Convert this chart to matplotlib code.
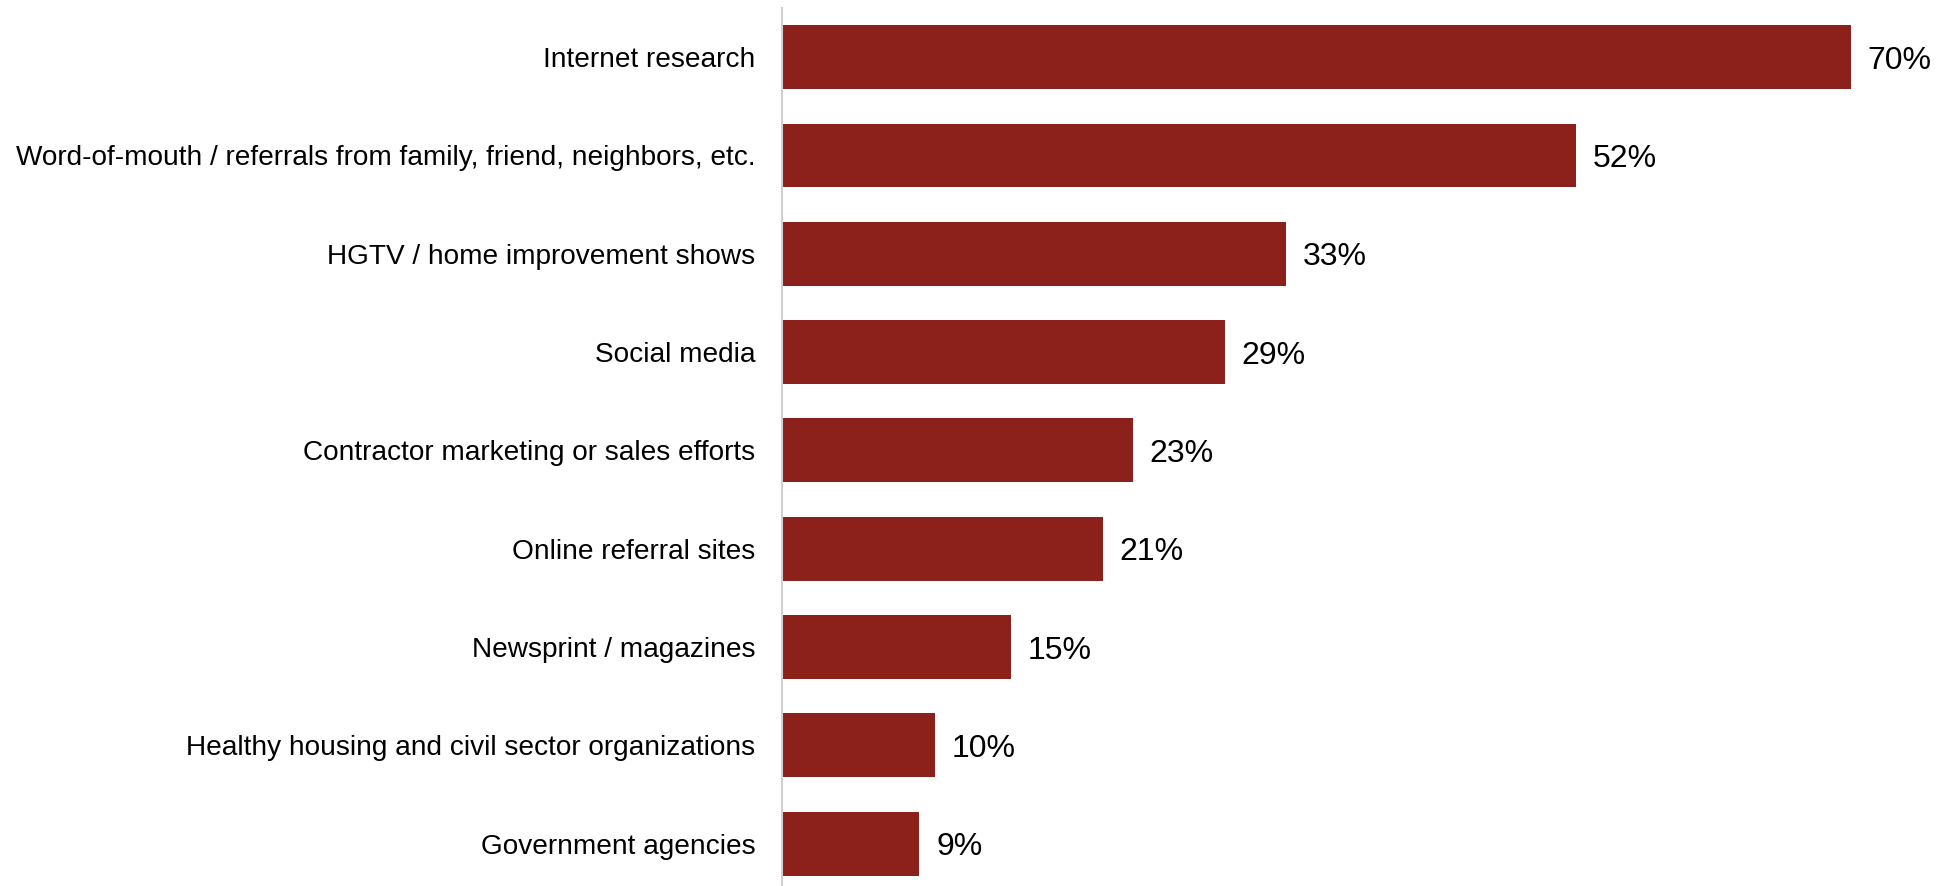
import matplotlib
matplotlib.use("Agg")
import matplotlib.pyplot as plt

plt.rcParams["font.family"] = ["Liberation Sans", "DejaVu Sans"]

# Fuentes de información consultadas (% de encuestados)
categorias = [
    "Internet research",
    "Word-of-mouth / referrals from family, friend, neighbors, etc.",
    "HGTV / home improvement shows",
    "Social media",
    "Contractor marketing or sales efforts",
    "Online referral sites",
    "Newsprint / magazines",
    "Healthy housing and civil sector organizations",
    "Government agencies",
]
valores = [70, 52, 33, 29, 23, 21, 15, 10, 9]
etiquetas = ["70%", "52%", "33%", "29%", "23%", "21%", "15%", "10%", "9%"]

color_barra = "#8C211C"

fig = plt.figure(figsize=(19.36, 8.86), dpi=100)
ax = fig.add_axes([782 / 1936, 0, 1 - 782 / 1936, 1 - 8 / 886])

pos = list(range(len(categorias)))
bars = ax.barh(pos, valores, height=0.65, color=color_barra)

ax.set_ylim(8.43, -0.5)
ax.set_xlim(0, 75.6)

ax.set_yticks(pos)
ax.set_yticklabels(categorias, fontsize=20.2)
ax.tick_params(axis="y", length=0, pad=19)
ax.set_xticks([])

for spine in ["top", "right", "bottom"]:
    ax.spines[spine].set_visible(False)
ax.spines["left"].set_color("#d0d0d0")
ax.spines["left"].set_linewidth(1.5)

# Etiquetas de valor al final de cada barra
for b, txt in zip(bars, etiquetas):
    ax.annotate(txt, xy=(b.get_width(), b.get_y() + b.get_height() / 2),
                xytext=(12, 0), textcoords="offset points",
                va="center_baseline", ha="left", fontsize=23, color="black")

fig.savefig("out.png", dpi=100)
